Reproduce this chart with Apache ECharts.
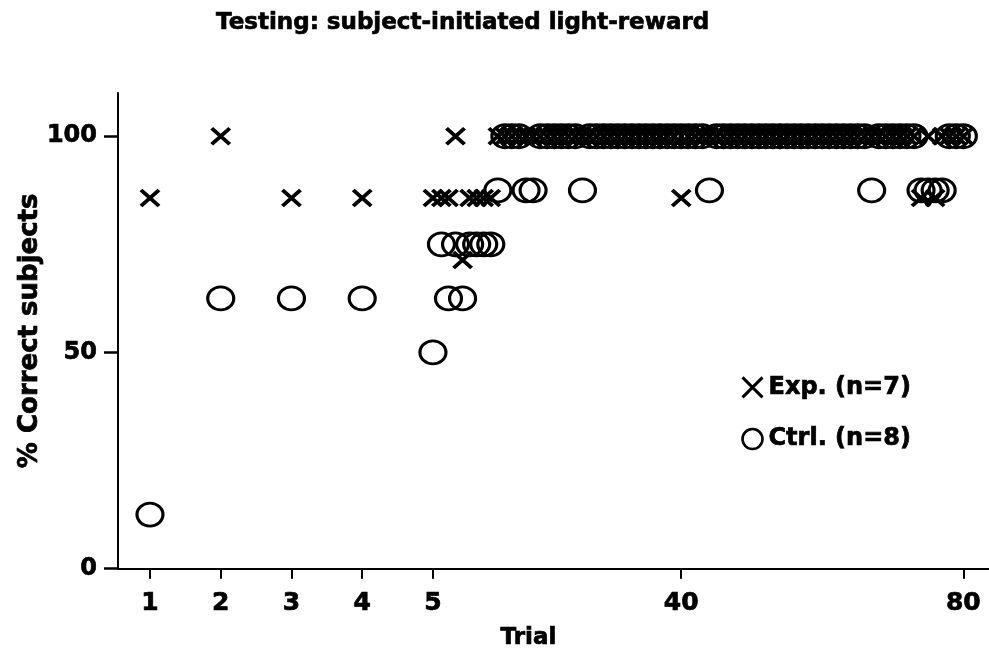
<!DOCTYPE html>
<html>
<head>
<meta charset="utf-8">
<script src="https://cdn.jsdelivr.net/npm/echarts@6/dist/echarts.min.js"></script>
<style>
  html, body { margin: 0; padding: 0; background: #fff; }
  #chart { width: 989px; height: 655px; }
</style>
</head>
<body>
<div id="chart"></div>
<script>
// Trial numbers and percentage of correct subjects per group
const trials = [
  1, 2, 3, 4, 5, 6, 7, 8, 9, 10,
  11, 12, 13, 14, 15, 16, 17, 18, 19, 20,
  21, 22, 23, 24, 25, 26, 27, 28, 29, 30,
  31, 32, 33, 34, 35, 36, 37, 38, 39, 40,
  41, 42, 43, 44, 45, 46, 47, 48, 49, 50,
  51, 52, 53, 54, 55, 56, 57, 58, 59, 60,
  61, 62, 63, 64, 65, 66, 67, 68, 69, 70,
  71, 72, 73, 74, 75, 76, 77, 78, 79, 80
];

const expPct = [
  85.7, 100, 85.7, 85.7, 85.7, 85.7, 85.7, 100, 71.4, 85.7,
  85.7, 85.7, 85.7, 100, 100, 100, 100, 100, 100, 100,
  100, 100, 100, 100, 100, 100, 100, 100, 100, 100,
  100, 100, 100, 100, 100, 100, 100, 100, 100, 85.7,
  100, 100, 100, 100, 100, 100, 100, 100, 100, 100,
  100, 100, 100, 100, 100, 100, 100, 100, 100, 100,
  100, 100, 100, 100, 100, 100, 100, 100, 100, 100,
  100, 100, 100, 85.7, 100, 85.7, 100, 100, 100, 100
];

const ctrlPct = [
  12.5, 62.5, 62.5, 62.5, 50, 75, 62.5, 75, 62.5, 75,
  75, 75, 75, 87.5, 100, 100, 100, 87.5, 87.5, 100,
  100, 100, 100, 100, 100, 87.5, 100, 100, 100, 100,
  100, 100, 100, 100, 100, 100, 100, 100, 100, 100,
  100, 100, 100, 87.5, 100, 100, 100, 100, 100, 100,
  100, 100, 100, 100, 100, 100, 100, 100, 100, 100,
  100, 100, 100, 100, 100, 100, 87.5, 100, 100, 100,
  100, 100, 100, 87.5, 87.5, 87.5, 87.5, 100, 100, 100
];

const seriesNames = ['Exp. (n=7)', 'Ctrl. (n=8)'];
const xTickTrials = [1, 2, 3, 4, 5, 40, 80];
const yTicks = [0, 50, 100];

// Trials 1-5 get full spacing; later trials sit on a compressed segment
function trialPos(t) {
  return t <= 5 ? t : 5 + (t - 4.8) * 0.0997;
}

const xTickPos = xTickTrials.map(trialPos);
const FONT = 'DejaVu Sans';
const CROSS = 'path://M0,0L10,10M10,0L0,10';

// heavy black text used everywhere
const txt = (size) => ({
  fontFamily: FONT, fontWeight: 'bold', fontSize: size, color: '#000',
  textBorderColor: '#000', textBorderWidth: 0.7
});

const chart = echarts.init(document.getElementById('chart'), null, { renderer: 'canvas' });

chart.setOption({
  animation: false,
  backgroundColor: '#fff',
  title: {
    text: 'Testing: subject-initiated light-reward',
    left: 211,
    top: 7,
    textStyle: txt(23)
  },
  grid: { left: 118, right: 0, top: 93, bottom: 86 },
  legend: {
    orient: 'vertical',
    left: 736,
    top: 370,
    itemWidth: 22,
    itemHeight: 20,
    itemGap: 27,
    textStyle: txt(24),
    data: [
      { name: seriesNames[0], icon: CROSS,
        itemStyle: { color: 'transparent', borderColor: '#000', borderWidth: 3 } },
      { name: seriesNames[1], icon: 'circle',
        itemStyle: { color: 'transparent', borderColor: '#000', borderWidth: 2.6 } }
    ]
  },
  xAxis: {
    type: 'value',
    min: 0.548,
    max: 12.86,
    name: 'Trial',
    nameLocation: 'middle',
    nameGap: 58,
    nameMoveOverlap: false,
    nameTextStyle: Object.assign(txt(23), { padding: [0, 50, 0, 0] }),
    axisLine: { lineStyle: { color: '#000', width: 2 } },
    axisTick: { customValues: xTickPos, length: 10, lineStyle: { color: '#000', width: 2 } },
    axisLabel: Object.assign(txt(25), {
      customValues: xTickPos,
      margin: 22,
      formatter: (v) => {
        const i = xTickPos.findIndex((p) => Math.abs(p - v) < 1e-6);
        return i >= 0 ? String(xTickTrials[i]) : '';
      }
    }),
    splitLine: { show: false }
  },
  yAxis: {
    type: 'value',
    min: 0,
    max: 110,
    name: '% Correct subjects',
    nameLocation: 'middle',
    nameGap: 75,
    nameMoveOverlap: false,
    nameTextStyle: txt(26),
    axisLine: { show: true, lineStyle: { color: '#000', width: 2 } },
    axisTick: {
      show: true, inside: false, customValues: yTicks, length: 14,
      lineStyle: { color: '#000', width: 2.5 }
    },
    axisLabel: Object.assign(txt(24), { customValues: yTicks, margin: 21 }),
    splitLine: { show: false }
  },
  series: [
    {
      name: seriesNames[0],
      type: 'scatter',
      symbol: CROSS,
      symbolSize: [18, 16],
      clip: false,
      itemStyle: { color: 'transparent', borderColor: '#000', borderWidth: 3.8, opacity: 1 },
      data: trials.map((t, i) => [trialPos(t), expPct[i]])
    },
    {
      name: seriesNames[1],
      type: 'scatter',
      symbol: 'circle',
      symbolSize: [26, 23],
      clip: false,
      itemStyle: { color: 'transparent', borderColor: '#000', borderWidth: 3, opacity: 1 },
      data: trials.map((t, i) => [trialPos(t), ctrlPct[i]])
    }
  ]
});
</script>
</body>
</html>
